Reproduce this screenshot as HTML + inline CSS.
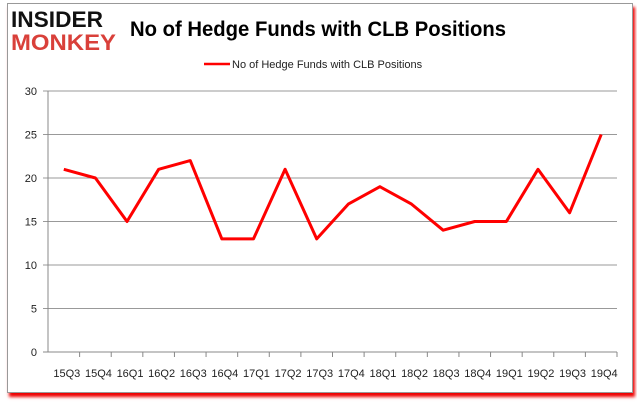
<!DOCTYPE html>
<html><head><meta charset="utf-8"><style>
body{margin:0;background:#fff;width:637px;height:408px;overflow:hidden;font-family:"Liberation Sans",sans-serif}
#frame{position:absolute;left:7px;top:3px;width:624px;height:388px;border:1px solid #999;background:#fff;box-shadow:2px 4px 3px #e00}
</style></head><body>
<div id="frame"></div>
<svg width="637" height="408" style="position:absolute;left:0;top:0">
<text x="11" y="27" font-size="22" font-weight="bold" fill="#111" font-family="Liberation Sans" textLength="92" lengthAdjust="spacingAndGlyphs">INSIDER</text>
<text x="11" y="50" font-size="22" font-weight="bold" fill="#d9403a" font-family="Liberation Sans" textLength="105" lengthAdjust="spacingAndGlyphs">MONKEY</text>
<text x="130" y="36" font-size="21" font-weight="bold" fill="#000" textLength="376" lengthAdjust="spacingAndGlyphs">No of Hedge Funds with CLB Positions</text>
<line x1="204" y1="64" x2="230" y2="64" stroke="#f00" stroke-width="2.5"/>
<text x="232" y="68" font-size="11" fill="#222">No of Hedge Funds with CLB Positions</text>
<g id="axes"></g>
</svg>
<script>
const categories=["15Q3","15Q4","16Q1","16Q2","16Q3","16Q4","17Q1","17Q2","17Q3","17Q4","18Q1","18Q2","18Q3","18Q4","19Q1","19Q2","19Q3","19Q4"];
const values=[21,20,15,21,22,13,13,21,13,17,19,17,14,15,15,21,16,25];
const yTicks=[0,5,10,15,20,25,30];
const L=48,R=617,T=91,B=352,NS="http://www.w3.org/2000/svg";
const g=document.getElementById('axes');
const bw=(R-L)/categories.length;
const xs=i=>L+bw*(i+0.5), ys=v=>B-(v/30)*(B-T);
function mk(t,a){const e=document.createElementNS(NS,t);for(const k in a)e.setAttribute(k,a[k]);g.appendChild(e);return e;}
yTicks.forEach(v=>{
 const y=ys(v);
 const l=mk('line',{x1:L-5,y1:y,x2:R,y2:y,stroke:v?'#999':'#888','stroke-width':1});
 
 
 const t=mk('text',{x:L-11,y:y+4,'font-size':11,'text-anchor':'end',fill:'#222'});
 t.textContent=v;
 
 
});
const ya=mk('line',{x1:L,y1:T,x2:L,y2:B,stroke:'#888'});


categories.forEach((c,i)=>{
 const tk=mk('line',{x1:L+bw*(i+1),y1:B,x2:L+bw*(i+1),y2:B+5,stroke:'#888'});
 
 
 const t=mk('text',{x:xs(i)+3,y:B+25,'font-size':11,'text-anchor':'middle',fill:'#222'});
 t.textContent=c;
 
 
});
const p=mk('polyline',{points:values.map((v,i)=>xs(i)+','+ys(v)).join(' '),fill:'none',stroke:'#f00','stroke-width':3,'stroke-linejoin':'round'});


</script>
</body></html>
